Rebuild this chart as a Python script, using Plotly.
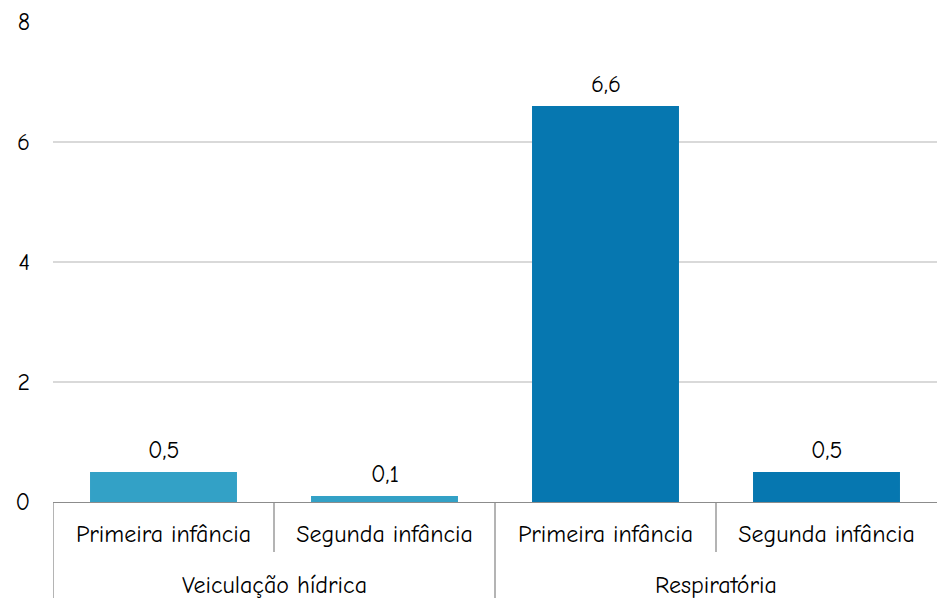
import plotly.graph_objects as go

groups = ["Veiculação hídrica", "Veiculação hídrica", "Respiratória", "Respiratória"]
subcats = ["Primeira infância", "Segunda infância", "Primeira infância", "Segunda infância"]
values = [0.5, 0.1, 6.6, 0.5]
colors = ["#33a1c6", "#33a1c6", "#0677b0", "#0677b0"]
yticks = [0, 2, 4, 6, 8]

FONT = "Comic Sans MS, Comic Neue, DejaVu Sans, sans-serif"
FS = 24
idx = list(range(len(values)))

fig = go.Figure()
fig.add_trace(go.Bar(
    x=idx, y=values, marker=dict(color=colors, line=dict(width=0)),
    width=0.665, hoverinfo="skip",
))

# value labels
for i, v in zip(idx, values):
    fig.add_annotation(x=i, y=v, xref="x", yref="y", text=f"{v:.1f}".replace(".", ","),
                       showarrow=False, yanchor="bottom", yshift=6,
                       font=dict(size=FS, color="#000000", family=FONT))

# group labels and separators
H = 480.0
seen = []
for i, g in enumerate(groups):
    if g not in seen:
        seen.append(g)
for g in seen:
    members = [i for i, gg in enumerate(groups) if gg == g]
    center = (members[0] + members[-1]) / 2
    fig.add_annotation(x=center, y=-83 / H, xref="x", yref="paper", text=g,
                       showarrow=False, yanchor="middle",
                       font=dict(size=FS, color="#000000", family=FONT))
    fig.add_shape(type="line", x0=members[0] - 0.5, x1=members[0] - 0.5, xref="x",
                  y0=0, y1=-96 / H, yref="paper", line=dict(color="#8c8c8c", width=1.3))
    for m in members[1:]:
        fig.add_shape(type="line", x0=m - 0.5, x1=m - 0.5, xref="x",
                      y0=0, y1=-50 / H, yref="paper", line=dict(color="#8c8c8c", width=1.3))

fig.update_layout(
    width=937, height=598,
    margin=dict(l=53, r=0, t=22, b=96),
    paper_bgcolor="white", plot_bgcolor="white",
    showlegend=False,
    font=dict(family=FONT, size=FS, color="#000000"),
    xaxis=dict(
        tickmode="array", tickvals=idx, ticktext=subcats,
        range=[-0.5, len(values) - 0.5],
        showgrid=False, zeroline=False,
        showline=True, linecolor="#8c8c8c", linewidth=1.3,
        ticks="", ticklabelstandoff=10,
        tickfont=dict(size=FS, family=FONT, color="#000000"),
    ),
    yaxis=dict(
        range=[0, 8], tickmode="array", tickvals=yticks,
        ticktext=[str(t) for t in yticks],
        showgrid=True, gridcolor="#d9d9d9", gridwidth=1.5,
        zeroline=False, showline=False, ticks="",
        ticklabelstandoff=22,
        tickfont=dict(size=FS, family=FONT, color="#000000"),
    ),
)

fig.write_html("out.html")
